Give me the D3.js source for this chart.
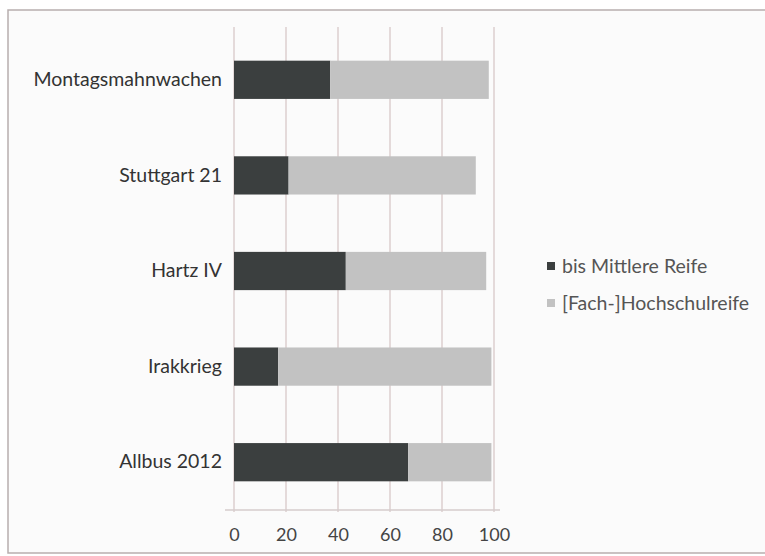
<!DOCTYPE html>
<html>
<head>
<meta charset="utf-8">
<script src="https://cdn.jsdelivr.net/npm/d3@7"></script>
<style>
  body { margin: 0; background: #ffffff; }
  svg { display: block; font-family: Lato, "Open Sans", sans-serif; }
</style>
</head>
<body>
<div id="chart"></div>
<script>
var categories = ["Montagsmahnwachen", "Stuttgart 21", "Hartz IV", "Irakkrieg", "Allbus 2012"];
var seriesNames = ["bis Mittlere Reife", "[Fach-]Hochschulreife"];
var mittlereReife = [37, 21, 43, 17, 67];
var hochschulreife = [61, 72, 54, 82, 32];
var xTicks = [0, 20, 40, 60, 80, 100];

var COLORS = ["#3b3f3f", "#c2c2c2"];

var width = 765, height = 556;
var svg = d3.select("#chart").append("svg")
    .attr("width", width).attr("height", height);

// chart frame
svg.append("rect")
    .attr("x", 8).attr("y", 10)
    .attr("width", width + 10).attr("height", 543)
    .attr("fill", "#fbfbfb").attr("stroke", "#b8aeae").attr("stroke-width", 1.5);

var x = d3.scaleLinear().domain([0, 100]).range([234, 494]);
var y = d3.scaleBand().domain(categories).range([32, 510]).paddingInner(0.6).paddingOuter(0.3);

// gridlines
svg.append("g").selectAll("line").data(xTicks).join("line")
    .attr("x1", function(d) { return x(d); }).attr("x2", function(d) { return x(d); })
    .attr("y1", 27).attr("y2", 512)
    .attr("stroke", "#dccfcf").attr("stroke-width", 1.5);

// bottom axis line
svg.append("line")
    .attr("x1", 225).attr("x2", 500).attr("y1", 510).attr("y2", 510)
    .attr("stroke", "#d6cccc").attr("stroke-width", 1.5);

var rows = categories.map(function(c, i) {
    return {cat: c, a: mittlereReife[i], b: hochschulreife[i]};
});

var bars = svg.append("g");
bars.selectAll("rect.dark").data(rows).join("rect")
    .attr("class", "dark")
    .attr("x", x(0))
    .attr("y", function(d) { return y(d.cat); })
    .attr("width", function(d) { return x(d.a) - x(0); })
    .attr("height", y.bandwidth())
    .attr("fill", COLORS[0]);
bars.selectAll("rect.light").data(rows).join("rect")
    .attr("class", "light")
    .attr("x", function(d) { return x(d.a); })
    .attr("y", function(d) { return y(d.cat); })
    .attr("width", function(d) { return x(d.a + d.b) - x(d.a); })
    .attr("height", y.bandwidth())
    .attr("fill", COLORS[1]);

// category labels
var yAxis = svg.append("g")
    .attr("transform", "translate(" + x(0) + ",0)")
    .call(d3.axisLeft(y).tickSize(0).tickPadding(12));
yAxis.select(".domain").remove();
yAxis.selectAll("text")
    .attr("font-size", 19.5).attr("font-family", "Lato, sans-serif").attr("fill", "#333");

// x tick labels
var xAxis = svg.append("g")
    .attr("transform", "translate(0,510)")
    .call(d3.axisBottom(x).tickValues(xTicks).tickSize(0).tickPadding(18));
xAxis.select(".domain").remove();
xAxis.selectAll("text")
    .attr("font-size", 18).attr("font-family", "Lato, sans-serif").attr("fill", "#444");

// legend
var legend = svg.append("g").attr("transform", "translate(547,266)");
var items = legend.selectAll("g").data(seriesNames).join("g")
    .attr("transform", function(d, i) { return "translate(0," + (i * 37) + ")"; });
items.append("rect")
    .attr("x", 0).attr("y", -4).attr("width", 8).attr("height", 8)
    .attr("fill", function(d, i) { return COLORS[i]; });
items.append("text")
    .attr("x", 15).attr("dy", "0.35em")
    .attr("font-size", 19.5).attr("fill", "#555")
    .text(function(d) { return d; });
</script>
</body>
</html>
